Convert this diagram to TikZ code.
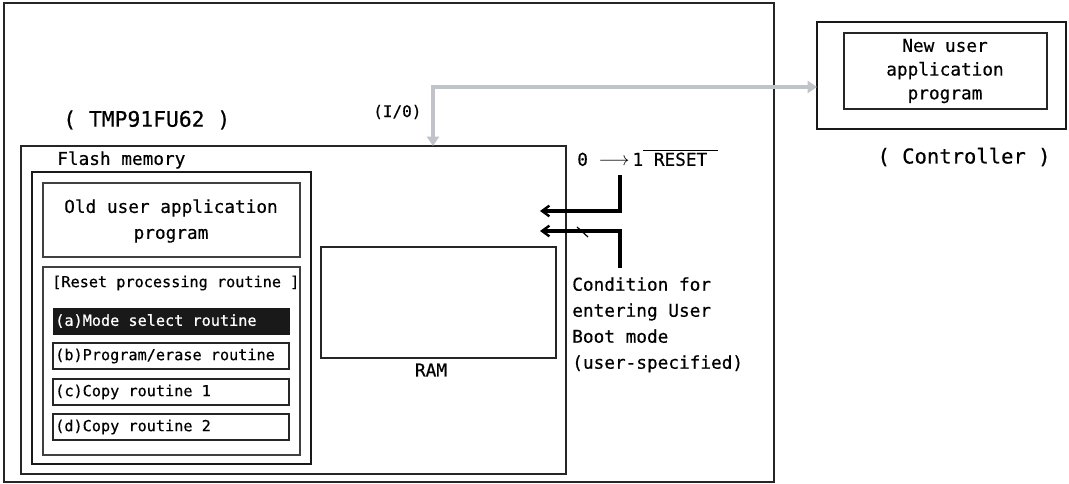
\documentclass[tikz,border=0pt]{standalone}
\usepackage{fontspec}
\newfontfamily\gm[FakeBold=0.5]{DejaVu Sans Mono}
\usetikzlibrary{arrows.meta,fit}
\tikzset{
  frame/.style={draw=black!85, inner sep=0pt, line width=1.4pt},
  thinframe/.style={draw=black!85, inner sep=0pt, line width=1.1pt},
  thickframe/.style={draw=black!90, inner sep=0pt, line width=2.2pt},
  txt/.style={inner sep=0pt, font=\gm\fontsize{13.3}{19.5}\selectfont},
  smalltxt/.style={inner sep=0pt, font=\gm\fontsize{11.4}{14}\selectfont},
  bigtxt/.style={inner sep=0pt, font=\gm\fontsize{16}{19}\selectfont},
  sig/.style={line width=2.3pt, -{Straight Barb[length=5.5pt,width=8pt,line width=1.8pt]}},
  iobus/.style={line width=3.6pt, draw={rgb,255:red,192;green,196;blue,202},
    {Triangle[length=7pt,width=9pt,fill={rgb,255:red,192;green,196;blue,202}]}-{Triangle[length=7pt,width=9pt,fill={rgb,255:red,192;green,196;blue,202}]}}
}
\begin{document}
\begin{tikzpicture}[x=0.75pt,y=-0.75pt]
\useasboundingbox (0,0) rectangle (1069,484);
% outer device box
\node[frame, fit={(4,3) (774,482)}] (outer) {};
\node[bigtxt, anchor=west] (tmp) at (63,120) {(~TMP91FU62~)};
\node[txt, font=\gm\fontsize{12}{14}\selectfont, anchor=west] (io) at (373,112) {(I/0)};
% flash memory
\node[frame, fit={(21,146) (566,474)}] (flash) {};
\node[txt, anchor=west] (flashlbl) at (57,160) {Flash memory};
\node[thickframe, fit={(32,172) (311,464)}] (inner) {};
\node[thinframe, draw=black!75, fit={(43,183) (300,257)}] (old) {};
\node[txt, align=center] (oldlbl) at (171,221) {Old user application\\program};
\node[thinframe, draw=black!75, fit={(43,267) (300,455)}] (reset) {};
\node[smalltxt, anchor=west] (resetlbl) at (52,283) {[Reset processing routine ]};
\node[fill=black!90, draw=black!90, inner sep=0pt, fit={(53,308) (289,334)}] (ra) {};
\node[smalltxt, text=white, anchor=west] (ralbl) at (55,321) {(a)Mode select routine};
\node[thinframe, fit={(53,343) (289,369)}] (rb) {};
\node[smalltxt, anchor=west] (rblbl) at (55,356) {(b)Program/erase routine};
\node[thinframe, fit={(53,379) (289,405)}] (rc) {};
\node[smalltxt, anchor=west] (rclbl) at (55,392) {(c)Copy routine 1};
\node[thinframe, fit={(53,414) (289,440)}] (rd) {};
\node[smalltxt, anchor=west] (rdlbl) at (55,427) {(d)Copy routine 2};
% RAM
\node[frame, fit={(321,247) (556,358)}] (ram) {};
\node[txt] (ramlbl) at (431,370) {RAM};
% reset and condition
\node[txt, anchor=west] (rst) at (577,158) {0 $\longrightarrow$\,1$\overline{\hbox{ RESET }}$};
\node[txt, align=left, anchor=north west] (cond) at (572,277) {Condition for\\entering User\\Boot mode\\(user-specified)};
\coordinate (rsttop) at (620,175);
\coordinate (rstend) at (540,211);
\coordinate (condtop) at (620,268);
\coordinate (condend) at (540,231);
\draw[sig] (rsttop) |- (rstend);
\draw[sig] (condtop) |- (condend);
\coordinate (tickA) at (577,227);
\coordinate (tickB) at (588,237);
\draw[line width=0.9pt] (tickA) -- (tickB);
% controller
\node[thickframe, line width=2pt, fit={(817,22) (1066,129)}] (ctrl) {};
\node[thinframe, line width=0.9pt, fit={(844,33) (1047,109)}] (newapp) {};
\node[txt, align=center, font=\gm\fontsize{13.3}{17.8}\selectfont] (newlbl) at (945,71) {New user\\application\\program};
\node[txt, font=\gm\fontsize{15.4}{18}\selectfont] (ctrllbl) at (964,157) {(~Controller~)};
% I/O bus
\coordinate (iotip) at (433,146);
\coordinate (ctrlin) at (817,87);
\draw[iobus] (iotip) |- (ctrlin);
\end{tikzpicture}
\end{document}
